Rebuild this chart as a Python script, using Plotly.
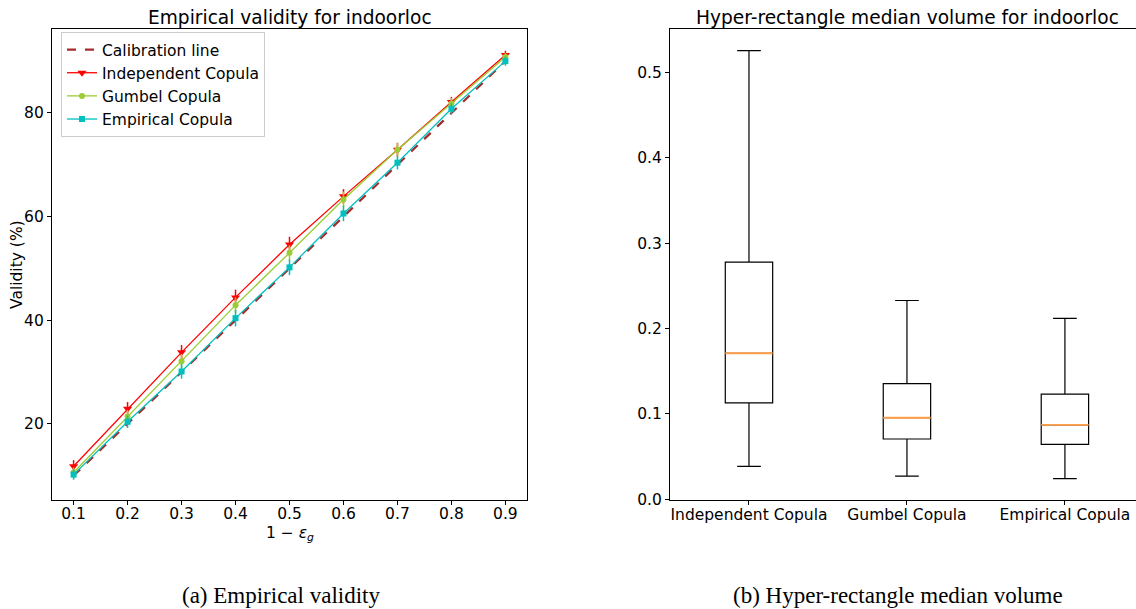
import plotly.graph_objects as go

# ---------------- data ----------------
eps_levels = [0.1, 0.2, 0.3, 0.4, 0.5, 0.6, 0.7, 0.8, 0.9]
calibration = [10, 20, 30, 40, 50, 60, 70, 80, 90]
independent = [11.8, 22.9, 33.8, 44.4, 54.6, 63.9, 72.9, 82.1, 91.2]
independent_err = [1.2, 1.3, 1.4, 1.5, 1.5, 1.4, 1.3, 1.0, 0.8]
gumbel = [10.6, 21.4, 32.1, 42.9, 53.0, 63.3, 72.9, 81.8, 90.8]
gumbel_err = [1.0, 1.3, 1.4, 1.5, 1.5, 1.5, 1.4, 1.1, 0.8]
empirical = [10.2, 20.4, 30.1, 40.4, 50.2, 60.6, 70.4, 80.8, 90.0]
empirical_err = [1.0, 1.2, 1.4, 1.6, 1.5, 1.5, 1.3, 1.1, 0.9]

box_names = ["Independent Copula", "Gumbel Copula", "Empirical Copula"]
box_pos = [1, 2, 3]
box_low = [0.0384, 0.0269, 0.0241]
box_q1 = [0.1128, 0.0705, 0.0641]
box_med = [0.1710, 0.0954, 0.0871]
box_q3 = [0.2779, 0.1354, 0.1231]
box_high = [0.5257, 0.2328, 0.2118]
box_width = 0.3

W, H = 1136, 609
FONT = "DejaVu Sans"
FS = 15.5
TS = 18.6

fig = go.Figure()

# ---------------- left panel ----------------
fig.add_trace(go.Scatter(
    x=eps_levels, y=calibration, mode="lines", name="Calibration line",
    line=dict(color="#a52a2a", dash="dash", width=2.2), xaxis="x", yaxis="y"))

def series(y, err, name, color, symbol, size):
    return go.Scatter(
        x=eps_levels, y=y, name=name, mode="lines+markers",
        line=dict(color=color, width=1.3),
        marker=dict(color=color, symbol=symbol, size=size),
        error_y=dict(type="data", array=err, visible=True, width=0,
                     thickness=1.5, color=color),
        xaxis="x", yaxis="y")

fig.add_trace(series(independent, independent_err, "Independent Copula", "#ff0000", "triangle-down", 8))
fig.add_trace(series(gumbel, gumbel_err, "Gumbel Copula", "#9acd32", "circle", 6))
fig.add_trace(series(empirical, empirical_err, "Empirical Copula", "#00bfbf", "square", 6))

# ---------------- right panel ----------------
for i in range(len(box_names)):
    fig.add_trace(go.Box(
        x=[box_pos[i]], q1=[box_q1[i]], median=[box_med[i]], q3=[box_q3[i]],
        lowerfence=[box_low[i]], upperfence=[box_high[i]],
        width=box_width, whiskerwidth=0.5, fillcolor="white",
        line=dict(color="black", width=1.2), showlegend=False,
        hoverinfo="skip", xaxis="x2", yaxis="y2"))

mx, my = [], []
for p, m in zip(box_pos, box_med):
    mx += [p - box_width / 2, p + box_width / 2, None]
    my += [m, m, None]
fig.add_trace(go.Scatter(x=mx, y=my, mode="lines", showlegend=False,
                         line=dict(color="#ff9f4a", width=1.8),
                         hoverinfo="skip", xaxis="x2", yaxis="y2"))

# ---------------- layout ----------------
ydom = [(H - 500) / H, (H - 29) / H]
axis_common = dict(showline=True, linecolor="black", linewidth=1.2,
                   ticks="outside", ticklen=4, tickcolor="black",
                   showgrid=False, zeroline=False, automargin=False,
                   tickfont=dict(family=FONT, size=FS, color="black"))

def note(text, x, y, size, family=FONT, angle=0):
    return dict(text=text, x=x / W, y=(H - y) / H, xref="paper", yref="paper",
                showarrow=False, xanchor="center", yanchor="middle", textangle=angle,
                font=dict(family=family, size=size, color="black"))

fig.update_layout(
    width=W, height=H,
    margin=dict(l=0, r=0, t=0, b=0),
    paper_bgcolor="white", plot_bgcolor="white",
    font=dict(family=FONT, color="black"),
    showlegend=True,
    legend=dict(x=61 / W, y=(H - 32) / H, xanchor="left", yanchor="top",
                bordercolor="#cccccc", borderwidth=1, bgcolor="rgba(255,255,255,0.85)",
                font=dict(family=FONT, size=FS, color="black"),
                tracegroupgap=0, itemwidth=30),
    xaxis=dict(domain=[52 / W, 527 / W], range=[0.06, 0.94], anchor="y",
               tickvals=eps_levels, tickformat=".1f", mirror=True,
               ticklabelstandoff=-5, **axis_common),
    yaxis=dict(domain=ydom, range=[5.3, 96.2], anchor="x",
               tickvals=[20, 40, 60, 80], mirror=True,
               **axis_common),
    xaxis2=dict(domain=[670 / W, 1.0], range=[0.5, 3.45], anchor="y2",
                tickvals=box_pos, ticktext=box_names, mirror=True,
                ticklabelstandoff=-4, **axis_common),
    yaxis2=dict(domain=ydom, range=[-0.001, 0.551], anchor="x2",
                tickvals=[0.0, 0.1, 0.2, 0.3, 0.4, 0.5], tickformat=".1f",
                **axis_common),
    annotations=[
        note("Empirical validity for indoorloc", 289.5, 18, TS),
        note("Hyper-rectangle median volume for indoorloc", 907, 18, TS),
        note("1 − <i>ε</i><sub><i>g</i></sub>", 289.5, 534, FS),
        note("Validity (%)", 17, 265, FS, angle=-90),
        note("(a) Empirical validity", 281, 595, 23, family="Liberation Serif"),
        note("(b) Hyper-rectangle median volume", 898, 595, 23, family="Liberation Serif"),
    ],
)

fig.write_html("out.html", config={"displayModeBar": False},
               post_script="document.body.style.margin='0';document.body.style.overflow='hidden';")
